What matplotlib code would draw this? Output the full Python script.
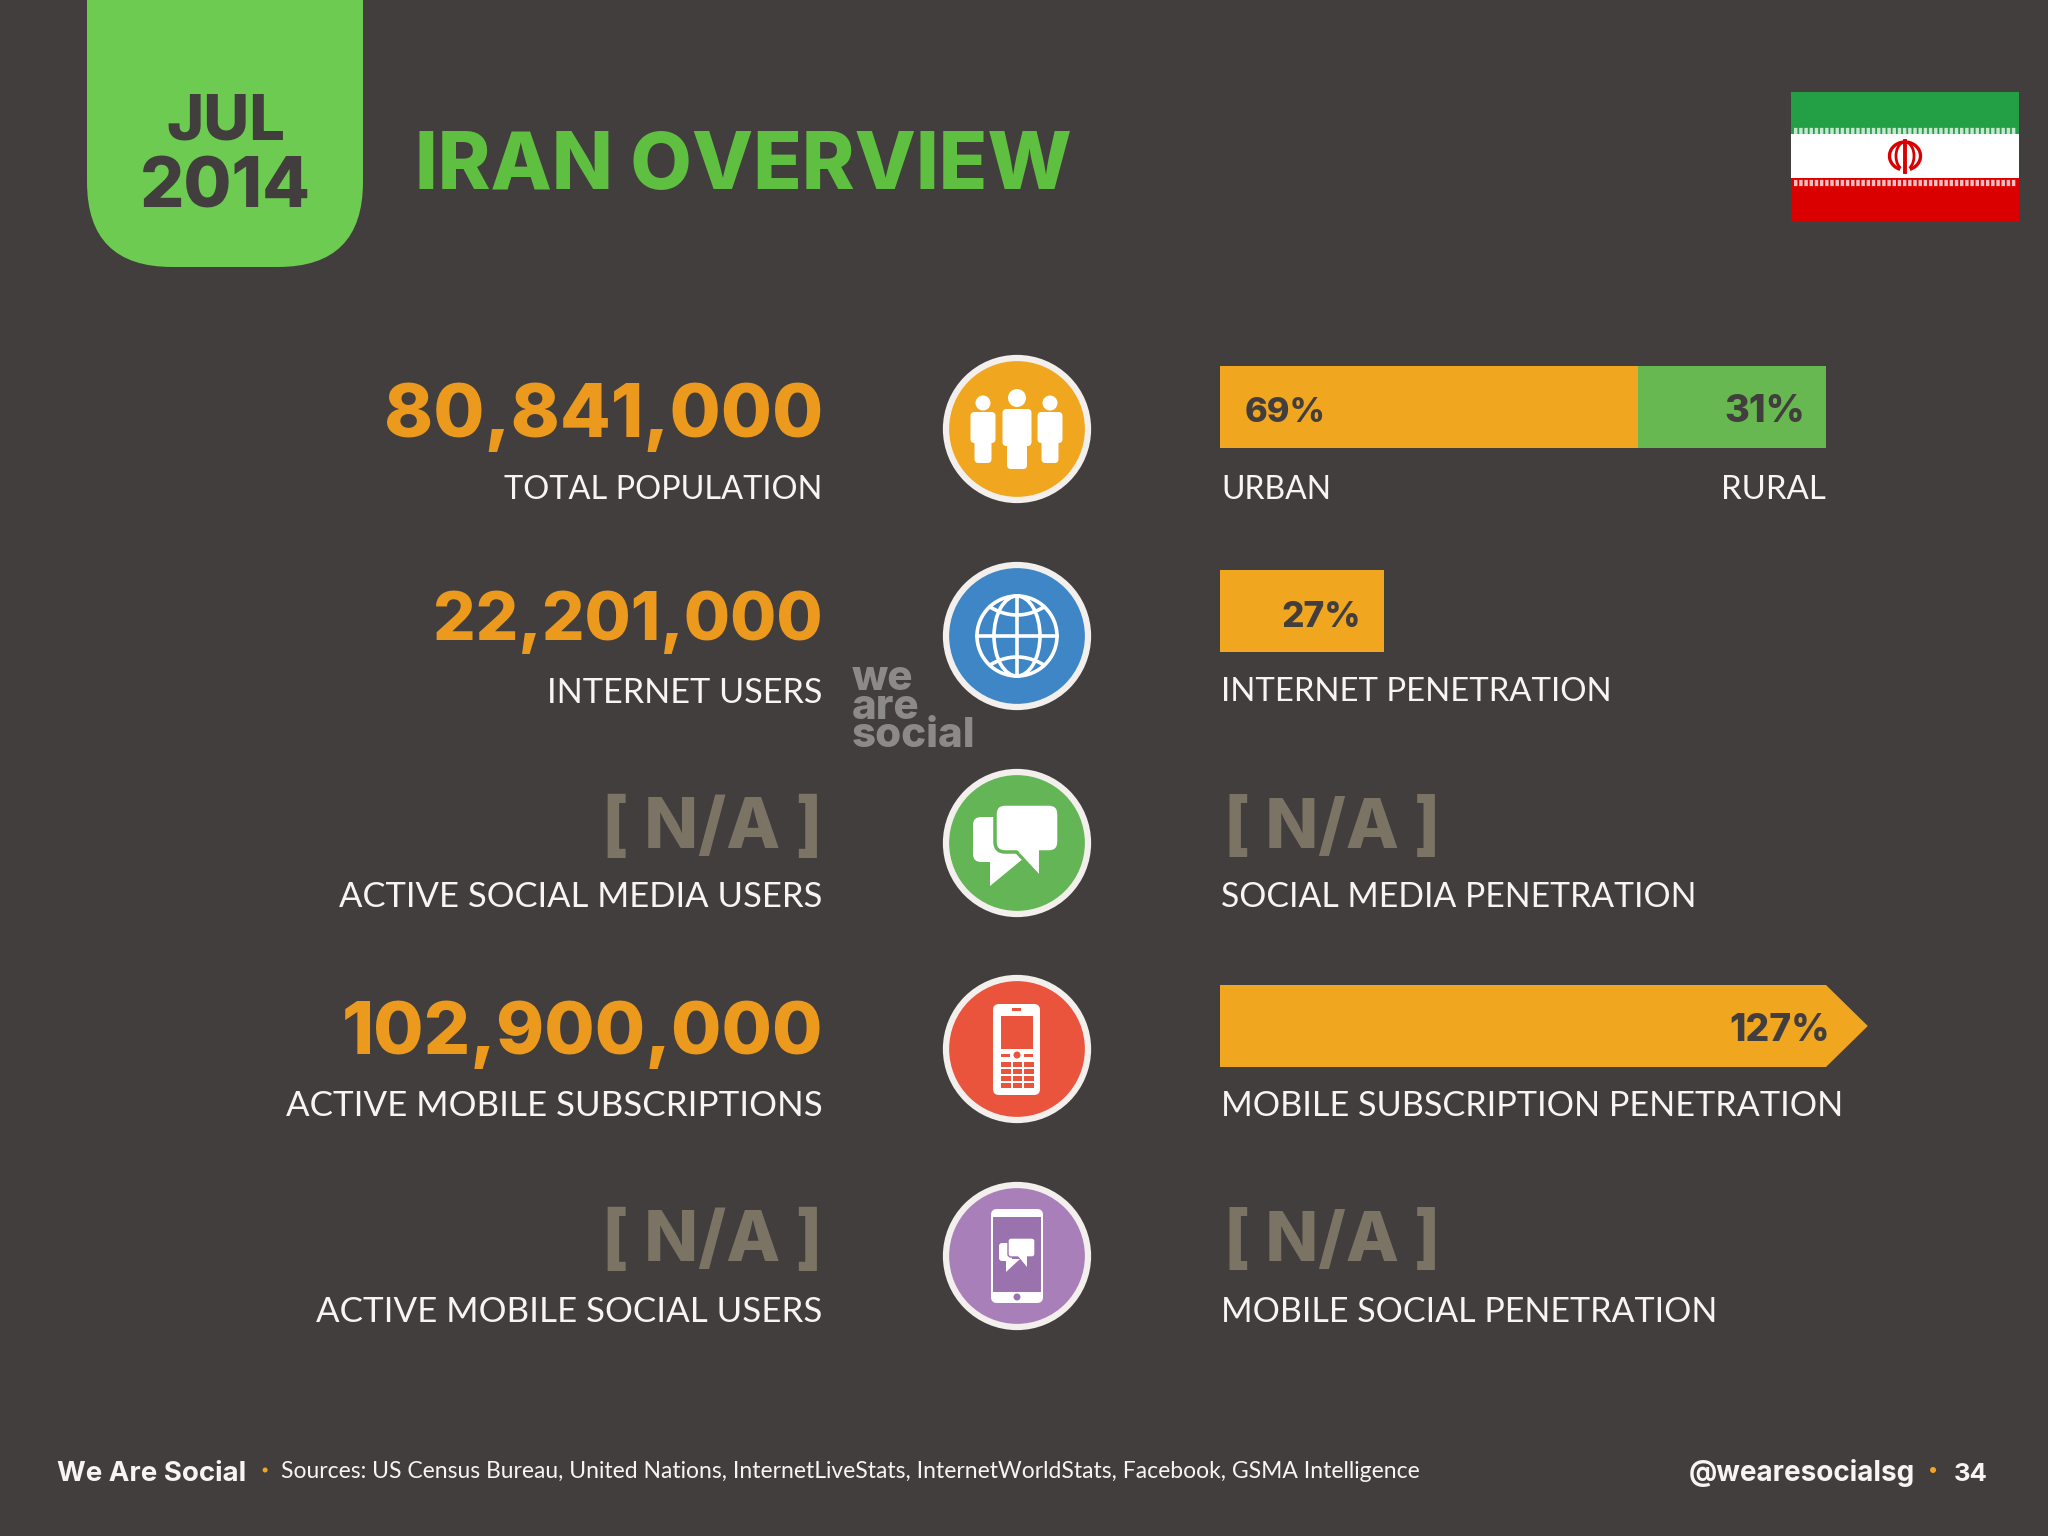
import matplotlib
matplotlib.use("Agg")
import matplotlib.pyplot as plt
import numpy as np
from matplotlib.patches import Circle, FancyBboxPatch, Polygon, Rectangle, Ellipse, Arc

# ---------- data ----------
TITLE = "IRAN OVERVIEW"
DATE_LINES = ["JUL", "2014"]
LEFT_VALUES = ["80,841,000", "22,201,000", "[ N/A ]", "102,900,000", "[ N/A ]"]
LEFT_LABELS = ["TOTAL POPULATION", "INTERNET USERS", "ACTIVE SOCIAL MEDIA USERS",
               "ACTIVE MOBILE SUBSCRIPTIONS", "ACTIVE MOBILE SOCIAL USERS"]
RIGHT_LABELS = ["", "INTERNET PENETRATION", "SOCIAL MEDIA PENETRATION",
                "MOBILE SUBSCRIPTION PENETRATION", "MOBILE SOCIAL PENETRATION"]
URBAN = 69
RURAL = 31
INTERNET_PEN = 27
MOBILE_PEN = 127
SOURCES = "Sources: US Census Bureau, United Nations, InternetLiveStats, InternetWorldStats, Facebook, GSMA Intelligence"

BG = "#423E3D"; ORANGE = "#F0A61F"; NUMC = "#EC9A1E"; GREEN = "#67B850"; TAB = "#6CCB50"
TITLEC = "#5FBF40"; NA = "#7B7364"; RING = "#F3EFEC"; W = "#F7F5F3"
S = 2048 / 1568

fig = plt.figure(figsize=(20.48, 15.36), dpi=100, facecolor=BG)
ax = fig.add_axes([0, 0, 1, 1], zorder=2); ax.set_xlim(0, 2048); ax.set_ylim(1536, 0); ax.axis("off")
FONT = ["Lato", "DejaVu Sans"]
FONTB = ["Inter", "DejaVu Sans"]
renderer = fig.canvas.get_renderer()

def fit(s, x0, x1, base, color, weight="normal", ha="left", size0=30, **kw):
    """Real text scaled so its ink width spans x0..x1 (px)."""
    x = x0 if ha == "left" else x1
    fam = FONTB if weight != "normal" else FONT
    t = ax.text(x, base, s, family=fam, fontsize=size0, color=color, weight=weight, ha=ha, va="baseline", **kw)
    w = t.get_window_extent(renderer).width
    t.set_fontsize(size0 * (x1 - x0) / w)
    return t

# ---------- header ----------
ax.add_patch(FancyBboxPatch((87, -200), 276, 467, boxstyle="round,pad=0,rounding_size=85", fc=TAB, ec="none"))
fit(DATE_LINES[0], 166, 285, 140, BG, "heavy")
fit(DATE_LINES[1], 140, 311, 208, BG, "heavy")
fit(TITLE, 415, 1073, 189, TITLEC, "heavy")

# flag
ax.add_patch(Rectangle((1791, 92), 228, 42, fc="#23A045", ec="none"))
ax.add_patch(Rectangle((1791, 134), 228, 44, fc="white", ec="none"))
ax.add_patch(Rectangle((1791, 178), 228, 44, fc="#DA0000", ec="none"))
for yy in (130.5, 182.5):
    ax.plot([1794, 2016], [yy, yy], color="white", lw=4.5, ls=(0, (0.55, 0.28)), alpha=0.75, solid_capstyle="butt")
ex, ey = 1905, 156
for w_, lw_ in ((31, 2.4), (18, 2.0)):
    ax.add_patch(Arc((ex, ey), w_, 28, theta1=110, theta2=430, color="#DA0000", lw=lw_))
ax.plot([ex, ex], [ey - 15, ey + 16], color="#DA0000", lw=2.8)

# ---------- rows ----------
CX = 1017
CY = [429, 636, 843, 1049, 1256]
LCOL = [ORANGE, "#3F86C6", "#63B555", "#EA533C", "#A97FBA"]
for y, c in zip(CY, LCOL):
    ax.add_patch(Circle((CX, y), 71, fc=c, ec=RING, lw=4.5))

LEFT_X = [387, 420, 261, 222, 244]
VAL_X = [294, 331, 461, 261, 461]
VAL_BASE = [437, 640, 848, 1054, 1261]
LAB_BASE = [499, 703, 907, 1116, 1322]
for i in range(5):
    col = NA if "N/A" in LEFT_VALUES[i] else NUMC
    fit(LEFT_VALUES[i], VAL_X[i] * S, 630 * S, VAL_BASE[i], col, "heavy", "right")
    fit(LEFT_LABELS[i], LEFT_X[i] * S, 630 * S, LAB_BASE[i], W, "normal", "right")

RIGHT_END = [0, 1233, 1298, 1410, 1314]
RIGHT_BASE = [0, 701, 907, 1116, 1322]
for i in range(1, 5):
    fit(RIGHT_LABELS[i], 935 * S, RIGHT_END[i] * S, RIGHT_BASE[i], W)
fit("URBAN", 935 * S, 1019 * S, 499, W)
fit("RURAL", 1318 * S, 1398 * S, 499, W)
for i in (2, 4):
    fit(LEFT_VALUES[i], 937 * S, 1103 * S, VAL_BASE[i], NA, "heavy")

# ---------- bars: x axis is percent of penetration ----------
bx = fig.add_axes([1220 / 2048, 0, 606 / 2048, 1], zorder=1); bx.set_xlim(0, 100); bx.set_ylim(1536, 0)
bx.axis("off")
H = 82
bx.barh(407, URBAN, height=H, left=0, color=ORANGE)
bx.barh(407, RURAL, height=H, left=URBAN, color=GREEN)
bx.barh(611, INTERNET_PEN, height=H, left=0, color=ORANGE)
capped = min(MOBILE_PEN, 100)
bx.barh(1026, capped, height=H, left=0, color=ORANGE)
bx.add_patch(Polygon([(capped, 985), (capped + 6.9, 1026), (capped, 1067)], fc=ORANGE, ec="none", clip_on=False))
fit(f"{URBAN}%", 953 * S, 1015 * S, 422, BG, "heavy")
fit(f"{RURAL}%", 1320 * S, 1382 * S, 422, BG, "heavy")
fit(f"{INTERNET_PEN}%", 981 * S, 1042 * S, 627, BG, "heavy")
fit(f"{MOBILE_PEN}%", 1324 * S, 1401 * S, 1041, BG, "heavy")

# ---------- watermark ----------
fit("we\nare\nsocial", 852, 976, 747, "#8C8A88", "heavy", linespacing=0.68)

# ---------- icons ----------
def rr(x0, y0, x1, y1, r, fc):
    ax.add_patch(FancyBboxPatch((x0, y0), x1 - x0, y1 - y0, boxstyle=f"round,pad=0,rounding_size={r}", fc=fc, ec="none"))

# people
for cx, hy, hr, bw, by0, by1, lw_, ly in ((983, 403, 7.5, 25, 412, 443, 17, 463), (1050, 403, 7.5, 25, 412, 443, 17, 463),
                                          (1017, 398, 9, 29, 409, 446, 20, 469)):
    ax.add_patch(Circle((cx, hy), hr, fc="white", ec="none"))
    rr(cx - bw / 2, by0, cx + bw / 2, by1, 4, "white")
    rr(cx - lw_ / 2, by1 - 4, cx + lw_ / 2, ly, 4, "white")

# globe
gy = CY[1]; R = 40; glw = 2.6
ax.add_patch(Circle((CX, gy), R, fc="none", ec="white", lw=glw))
ax.add_patch(Ellipse((CX, gy), 46, 2 * R, fc="none", ec="white", lw=glw))
ax.plot([CX, CX], [gy - R, gy + R], color="white", lw=glw)
ax.plot([CX - R, CX + R], [gy, gy], color="white", lw=glw)
t = np.linspace(-1, 1, 30)
ax.plot(CX + 27 * t, gy - 29 + 8 * (1 - t ** 2), color="white", lw=glw)
ax.plot(CX + 27 * t, gy + 29 - 8 * (1 - t ** 2), color="white", lw=glw)

# chat
C = LCOL[2]
rr(973, 817, 1020, 862, 8, "white")
ax.add_patch(Polygon([(990, 858), (990, 886), (1024, 858)], fc="white", ec="none"))
ax.add_patch(FancyBboxPatch((995, 804), 64, 48, boxstyle="round,pad=0,rounding_size=10", fc="white", ec=C, lw=2.5))
ax.add_patch(Polygon([(1017, 850), (1039, 874), (1039, 850)], fc="white", ec="none"))
ax.plot([1016, 1039], [852, 876], color=C, lw=1.8)

# feature phone
C = LCOL[3]
rr(993, 1004, 1040, 1095, 6, "white")
ax.add_patch(Rectangle((1001, 1016), 32, 33, fc=C, ec="none"))
ax.add_patch(Rectangle((1012, 1008), 9, 2.5, fc=C, ec="none"))
for x0 in (1001, 1024):
    ax.add_patch(Rectangle((x0, 1054), 9, 3, fc=C, ec="none"))
ax.add_patch(Circle((1017, 1055), 3.5, fc=C, ec="none"))
for r_ in (1062, 1069, 1076, 1083):
    for x0 in (1001, 1012.5, 1024):
        ax.add_patch(Rectangle((x0, r_), 9.5, 5, fc=C, ec="none"))

# smartphone
SC = "#9A72AD"
rr(991, 1209, 1043, 1303, 6, "white")
ax.add_patch(Rectangle((993, 1217), 48, 75, fc=SC, ec="none"))
ax.add_patch(Circle((1017, 1297), 3.5, fc=SC, ec="none"))
rr(999, 1243, 1012, 1261, 3, "white")
ax.add_patch(Polygon([(1006, 1259), (1006, 1272), (1020, 1259)], fc="white", ec="none"))
ax.add_patch(FancyBboxPatch((1008, 1238), 27, 19, boxstyle="round,pad=0,rounding_size=3", fc="white", ec=SC, lw=1.0))
ax.add_patch(Polygon([(1018, 1256), (1027, 1267), (1027, 1256)], fc="white", ec="none"))

# ---------- footer ----------
fit("We Are Social", 44 * S, 189 * S, 1481, W, "bold")
ax.add_patch(Circle((203 * S, 1470), 2.5, fc=ORANGE, ec="none"))
fit(SOURCES, 215 * S, 1085 * S, 1478, W)
fit("@wearesocialsg", 1293 * S, 1466 * S, 1481, W, "bold")
ax.add_patch(Circle((1480 * S, 1470), 3, fc=ORANGE, ec="none"))
fit("34", 1496 * S, 1522 * S, 1481, W, "bold")

fig.savefig("out.png", dpi=100, facecolor=BG)
